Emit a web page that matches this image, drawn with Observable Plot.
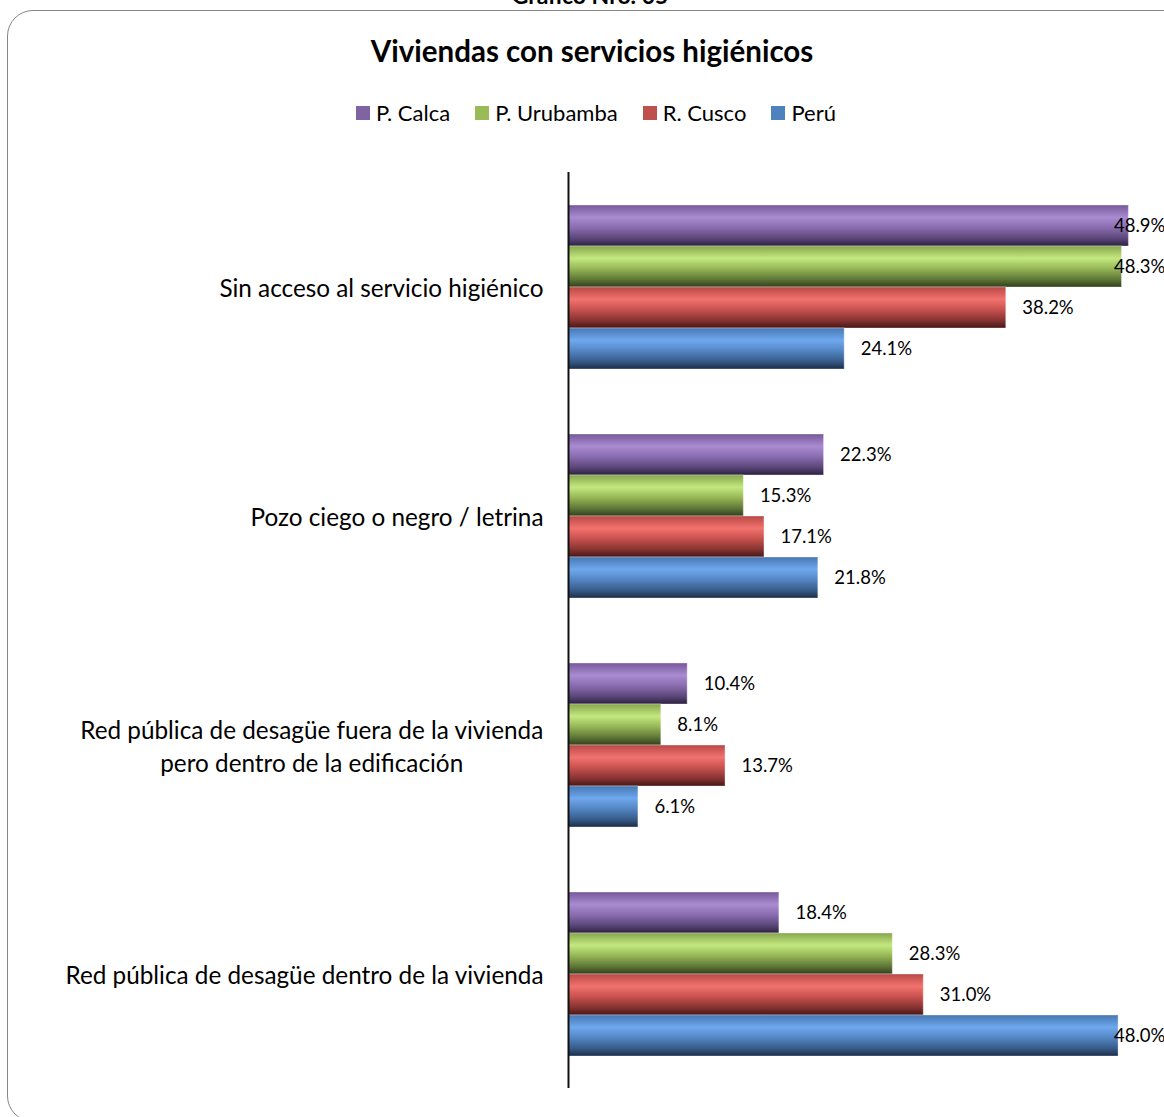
<!DOCTYPE html>
<html>
<head>
<meta charset="utf-8">
<script src="https://cdn.jsdelivr.net/npm/d3@7"></script>
<script src="https://cdn.jsdelivr.net/npm/@observablehq/plot@0.6"></script>
<style>
  html, body { margin: 0; padding: 0; background: #fff; }
  #page { position: relative; width: 1164px; height: 1117px; overflow: hidden; font-family: Lato, "Open Sans", sans-serif; color: #000; }
  #frame { position: absolute; left: 7px; top: 10px; width: 1220px; height: 1112px; border: 1.6px solid #878787; border-radius: 26px; box-sizing: border-box; }
  #supertitle { position: absolute; left: 0; width: 1180px; top: -19px; text-align: center; font-weight: bold; font-size: 23px; }
  #title { position: absolute; left: 0; width: 1184px; top: 33px; text-align: center; font-weight: bold; font-size: 29.5px; }
  #legend { position: absolute; left: 0; width: 1192px; top: 99px; display: flex; justify-content: center; gap: 25px; font-size: 22px; }
  #legend .item { display: flex; align-items: center; }
  #legend .sw { width: 14px; height: 14px; margin-right: 6px; }
  #chart { position: absolute; left: 0; top: 140px; }
</style>
</head>
<body>
<div id="page">
  <div id="supertitle">Gráfico Nro. 05</div>
  <div id="frame"></div>
  <div id="title">Viviendas con servicios higiénicos</div>
  <div id="legend"></div>
  <div id="chart"></div>
</div>
<script>
// ---- data ----
const categories = [
  "Sin acceso al servicio higiénico",
  "Pozo ciego o negro / letrina",
  "Red pública de desagüe fuera de la vivienda\npero dentro de la edificación",
  "Red pública de desagüe dentro de la vivienda"
];
const series = ["P. Calca", "P. Urubamba", "R. Cusco", "Perú"];
const calca     = [48.9, 22.3, 10.4, 18.4];
const urubamba  = [48.3, 15.3, 8.1, 28.3];
const cusco     = [38.2, 17.1, 13.7, 31.0];
const peru      = [24.1, 21.8, 6.1, 48.0];
const seriesValues = [calca, urubamba, cusco, peru];

const baseColors = ["#8064A2", "#9BBB59", "#C0504D", "#4F81BD"];
const gradStops = [
  ["#76599a", "#a98bd1", "#8a6db0", "#5a4577", "#2c2140"],
  ["#86a64c", "#c4e880", "#96b756", "#5d7536", "#313f1c"],
  ["#b84946", "#f2726e", "#c9524f", "#843331", "#471615"],
  ["#4677b2", "#6fa8ee", "#5486c4", "#365a87", "#1b2d47"]
];

const rows = [];
categories.forEach((c, i) => {
  series.forEach((s, j) => {
    rows.push({category: c, series: s, value: seriesValues[j][i]});
  });
});

// legend
const legend = document.getElementById("legend");
series.forEach((s, j) => {
  const it = document.createElement("div");
  it.className = "item";
  it.innerHTML = `<span class="sw" style="background:${baseColors[j]}"></span><span>${s}</span>`;
  legend.appendChild(it);
});

// measure widest line of multi-line category labels to center them like Excel
const catFamily = "Lato";
const catSize = 24.3;
const ctx = document.createElement("canvas").getContext("2d");
ctx.font = `${catSize}px ${catFamily}`;
const labelGap = 25;
const catInfo = categories.map(c => {
  const lines = c.split("\n");
  const w = Math.max(...lines.map(l => ctx.measureText(l).width));
  return {category: c, multi: lines.length > 1, w};
});

const labelClamp = 47.6;

const marks = [];
series.forEach((s, j) => {
  marks.push(Plot.barX(rows.filter(d => d.series === s), {
    fy: "category", y: "series", x: "value",
    fill: `url(#grad${j})`, stroke: "#ffffff", strokeOpacity: 0.35, strokeWidth: 1
  }));
});
marks.push(Plot.text(rows, {
  fy: "category", y: "series",
  x: d => Math.min(d.value + 1.4, labelClamp),
  text: d => d.value.toFixed(1) + "%",
  textAnchor: "start", fontSize: 18.5, fill: "#000"
}));
marks.push(Plot.text(catInfo.filter(d => !d.multi), {
  fy: "category", x: () => 0, text: "category",
  textAnchor: "end", dx: -labelGap, dy: 2, fontSize: catSize, fontFamily: catFamily, fill: "#000"
}));
catInfo.filter(d => d.multi).forEach(d => {
  marks.push(Plot.text([d], {
    fy: "category", x: () => 0, text: "category",
    textAnchor: "middle", dx: -labelGap - d.w / 2, dy: 0, fontSize: catSize, fontFamily: catFamily, lineHeight: 1.37, fill: "#000"
  }));
});
marks.push(Plot.ruleX([0], {stroke: "#111", strokeWidth: 2}));

const plot = Plot.plot({
  width: 1164,
  height: 32 + 916 + 20,
  marginTop: 32,
  marginBottom: 20,
  marginLeft: 568,
  marginRight: 23,
  style: {fontFamily: "Lato, 'Open Sans', sans-serif", background: "transparent", overflow: "visible"},
  x: {domain: [0, 50], axis: null},
  y: {domain: series, padding: 0, axis: null, insetTop: 31, insetBottom: 31},
  fy: {domain: categories, padding: 0, axis: null},
  marks
});

const svg = d3.select(plot);
const defs = svg.insert("defs", ":first-child");
gradStops.forEach((stops, j) => {
  const g = defs.append("linearGradient").attr("id", `grad${j}`)
    .attr("x1", 0).attr("y1", 0).attr("x2", 0).attr("y2", 1);
  const offs = [0, 0.3, 0.55, 0.82, 1];
  stops.forEach((c, k) => g.append("stop").attr("offset", offs[k]).attr("stop-color", c));
});

document.getElementById("chart").appendChild(plot);
</script>
</body>
</html>
